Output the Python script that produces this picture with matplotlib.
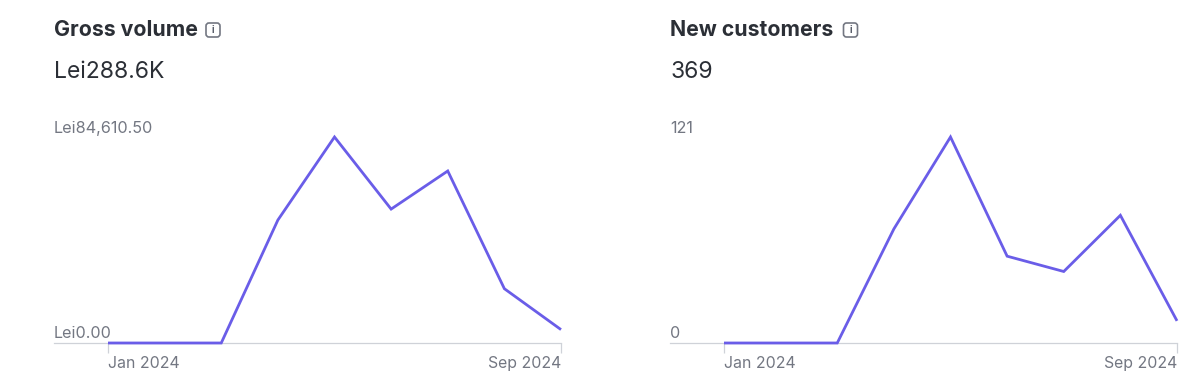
import matplotlib
matplotlib.use('Agg')
import matplotlib.pyplot as plt
from matplotlib.patches import FancyBboxPatch
from matplotlib.transforms import IdentityTransform

W, H = 1200, 384

months = ['Jan', 'Feb', 'Mar', 'Apr', 'May', 'Jun', 'Jul', 'Aug', 'Sep']
gross_volume = [0, 0, 0, 50500, 84610.5, 55000, 70650, 22300, 5500]
new_customers = [0, 0, 0, 67, 121, 51, 42, 75, 13]

titles = ['Gross volume', 'New customers']
totals = ['Lei288.6K', '369']
top_labels = ['Lei84,610.50', '121']
zero_labels = ['Lei0.00', '0']
x_labels = ['Jan 2024', 'Sep 2024']

LINE = '#6a5de8'
AXIS = '#cfd2d8'
DARK = '#2b2f36'
MUTED = '#737782'

plt.rcParams['font.family'] = ['Inter', 'DejaVu Sans']

fig = plt.figure(figsize=(W / 100, H / 100), dpi=100, facecolor='white')


def draw_panel(left, right, values, title, total, top_label, zero_label, icon_x):
    ax = fig.add_axes([left / W, 1 - 343 / H, (right - left) / W, 206 / H])
    step = (right - (left + 54)) / (len(values) - 1)
    xs = list(range(len(values)))
    ax.set_xlim(-54 / step, len(values) - 1)
    ax.set_ylim(0, max(values))
    ax.patch.set_visible(False)
    for side in ['top', 'left', 'right']:
        ax.spines[side].set_visible(False)
    ax.spines['bottom'].set_color(AXIS)
    ax.spines['bottom'].set_linewidth(0.9)
    ax.set_yticks([])
    ax.set_xticks([0, len(values) - 1])
    ax.set_xticklabels(x_labels, fontsize=11.4, color=MUTED)
    ax.tick_params(axis='x', length=7, width=0.9, color=AXIS, pad=2.5)
    ticks = ax.get_xticklabels()
    ticks[0].set_ha('left')
    ticks[1].set_ha('right')
    ax.plot(xs, values, color=LINE, linewidth=2.0, clip_on=False,
            solid_joinstyle='miter', solid_capstyle='butt', zorder=3)

    # header and y labels sit at fixed pixel positions
    fig.text(left / W, 1 - 30.5 / H, title, fontsize=15.3, fontweight='bold',
             color=DARK, va='center')
    fig.text(left / W, 1 - 71.5 / H, total, fontsize=16.5, color=DARK, va='center')
    fig.text(left / W, 1 - 128.5 / H, top_label, fontsize=11.7, color=MUTED, va='center')
    fig.text(left / W, 1 - 334 / H, zero_label, fontsize=11.6, color=MUTED, va='center')

    # little info icon next to the title
    fig.add_artist(FancyBboxPatch((icon_x, H - 37), 14, 14,
                                  boxstyle='round,pad=0,rounding_size=3',
                                  transform=IdentityTransform(), fc='none',
                                  ec=MUTED, lw=1.2))
    fig.text((icon_x + 7) / W, 1 - 30 / H, 'i', fontsize=7, fontweight='bold',
             color='#5a5f6b', ha='center', va='center')


draw_panel(54, 561, gross_volume, titles[0], totals[0], top_labels[0], zero_labels[0], 206)
draw_panel(670, 1177, new_customers, titles[1], totals[1], top_labels[1], zero_labels[1], 843.5)

fig.savefig('out.png', dpi=100, facecolor='white')
